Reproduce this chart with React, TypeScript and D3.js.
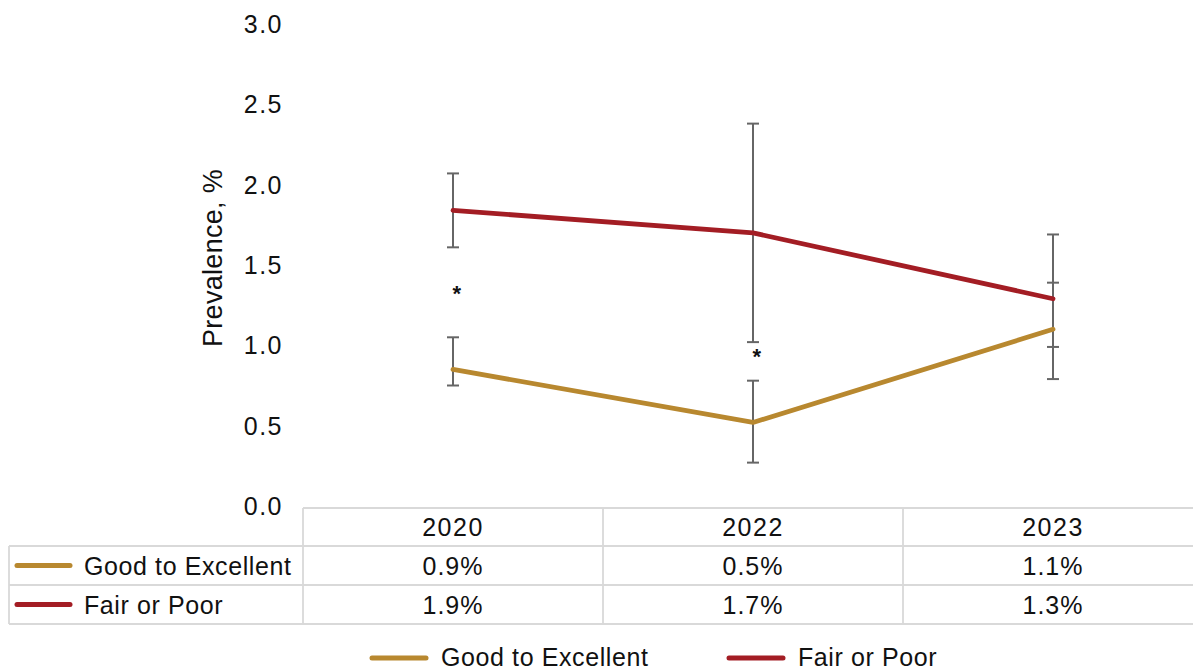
import React from "react";
import * as d3 from "d3";

const years = ["2020", "2022", "2023"];
const seriesNames = ["Good to Excellent", "Fair or Poor"];
const goodValues = [0.85, 0.52, 1.1];
const goodLow = [0.75, 0.27, 0.99];
const goodHigh = [1.05, 0.78, 1.39];
const fairValues = [1.84, 1.7, 1.29];
const fairLow = [1.61, 1.02, 0.79];
const fairHigh = [2.07, 2.38, 1.69];
const goodLabels = ["0.9%", "0.5%", "1.1%"];
const fairLabels = ["1.9%", "1.7%", "1.3%"];
const yTicks = [0, 0.5, 1, 1.5, 2, 2.5, 3];
const sigMarkers = [1.33, 0.94, null];

const W = 1193;
const H = 670;
const GOLD = "#B8882F";
const RED = "#A31D24";
const GRID = "#D9D9D9";
const FONT = "'Liberation Sans', Arial, sans-serif";
const LS = 0.6;

export default function App() {
  const x = d3.scaleBand<string>().domain(years).range([303, 1203]);
  const y = d3.scaleLinear().domain([0, 3]).range([506, 24]);
  const cx = (yr: string) => (x(yr) as number) + x.bandwidth() / 2;

  const line = d3
    .line<number>()
    .x((_, i) => cx(years[i]))
    .y((d) => y(d));

  const series = [
    { name: seriesNames[0], color: GOLD, values: goodValues, low: goodLow, high: goodHigh, labels: goodLabels },
    { name: seriesNames[1], color: RED, values: fairValues, low: fairLow, high: fairHigh, labels: fairLabels },
  ];

  const tableTop = 508;
  const rowYs = [508, 546, 585, 624];
  const colXs = [303, 603, 903, 1203];

  return (
    <svg
      width={W}
      height={H}
      style={{ position: "fixed", left: 0, top: 0, background: "#fff" }}
      fontFamily={FONT}
      letterSpacing={LS}
    >
      {/* y axis ticks */}
      {yTicks.map((t) => (
        <text key={t} x={283} y={y(t)} dy="0.36em" textAnchor="end" fontSize={25} letterSpacing={1.5} fill="#111">
          {d3.format(".1f")(t)}
        </text>
      ))}
      <text
        transform={`translate(222, 258) rotate(-90)`}
        textAnchor="middle"
        fontSize={27}
        letterSpacing={0.3}
        fill="#111"
      >
        Prevalence, %
      </text>

      {/* error bars */}
      {series.map((s) =>
        years.map((yr, i) => (
          <g key={s.name + yr} stroke="#666" strokeWidth={2}>
            <line x1={cx(yr)} x2={cx(yr)} y1={y(s.low[i])} y2={y(s.high[i])} />
            <line x1={cx(yr) - 6} x2={cx(yr) + 6} y1={y(s.low[i])} y2={y(s.low[i])} />
            <line x1={cx(yr) - 6} x2={cx(yr) + 6} y1={y(s.high[i])} y2={y(s.high[i])} />
          </g>
        ))
      )}

      {/* lines */}
      {series.map((s) => (
        <path
          key={s.name}
          d={line(s.values) as string}
          fill="none"
          stroke={s.color}
          strokeWidth={4.8}
          strokeLinecap="round"
          strokeLinejoin="round"
        />
      ))}

      {/* significance markers */}
      {years.map((yr, i) =>
        sigMarkers[i] != null ? (
          <text
            key={"sig" + yr}
            x={cx(yr) + 4}
            y={y(sigMarkers[i] as number) + 9}
            textAnchor="middle"
            fontSize={22}
            fontWeight="bold"
            fill="#111"
          >
            *
          </text>
        ) : null
      )}

      {/* data table */}
      <g stroke={GRID} strokeWidth={1.8}>
        <line x1={303} x2={W} y1={tableTop} y2={tableTop} />
        {rowYs.slice(1).map((ry) => (
          <line key={"h" + ry} x1={9} x2={W} y1={ry} y2={ry} />
        ))}
        <line x1={9} x2={9} y1={rowYs[1]} y2={rowYs[3]} />
        {colXs.slice(0, 3).map((c) => (
          <line key={"v" + c} x1={c} x2={c} y1={tableTop} y2={rowYs[3]} />
        ))}
      </g>
      {years.map((yr) => (
        <text key={"hd" + yr} x={cx(yr)} y={(rowYs[0] + rowYs[1]) / 2} dy="0.36em" textAnchor="middle" fontSize={25} letterSpacing={1.5} fill="#111">
          {yr}
        </text>
      ))}
      {series.map((s, r) => {
        const cy = (rowYs[r + 1] + rowYs[r + 2]) / 2;
        return (
          <g key={"row" + s.name}>
            <line x1={17} x2={70} y1={cy} y2={cy} stroke={s.color} strokeWidth={5} strokeLinecap="round" />
            <text x={84} y={cy} dy="0.36em" fontSize={25} fill="#111">
              {s.name}
            </text>
            {years.map((yr, i) => (
              <text key={yr} x={cx(yr)} y={cy} dy="0.36em" textAnchor="middle" fontSize={25} letterSpacing={1} fill="#111">
                {s.labels[i]}
              </text>
            ))}
          </g>
        );
      })}

      {/* bottom legend */}
      {series.map((s, i) => {
        const lx = i === 0 ? 372 : 729;
        return (
          <g key={"leg" + s.name}>
            <line x1={lx} x2={lx + 54} y1={658} y2={658} stroke={s.color} strokeWidth={5} strokeLinecap="round" />
            <text x={lx + 69} y={657} dy="0.34em" fontSize={25} fill="#111">
              {s.name}
            </text>
          </g>
        );
      })}
    </svg>
  );
}
